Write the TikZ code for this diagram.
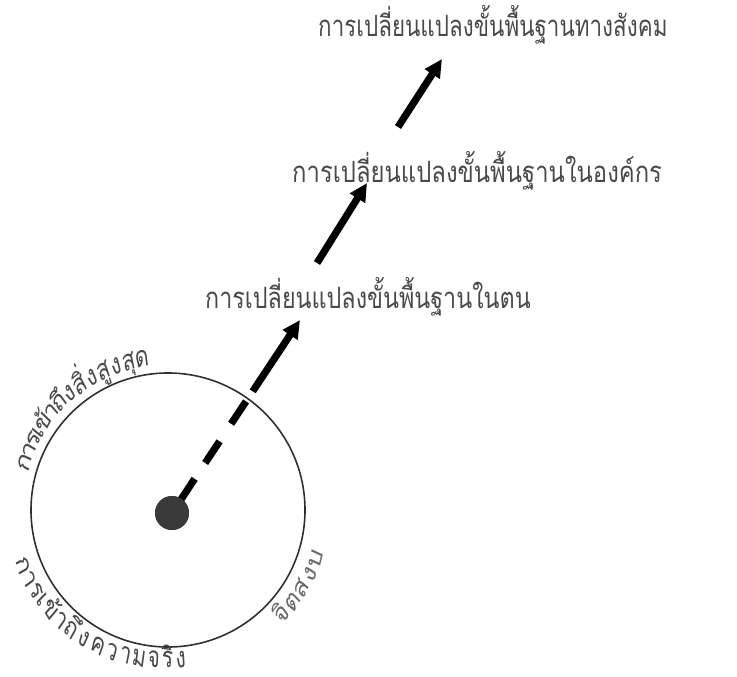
\documentclass[tikz,border=0pt]{standalone}
\usepackage{fontspec}
\newfontfamily\thaifont[Script=Thai]{Loma}
\usetikzlibrary{arrows.meta}
\definecolor{labelgray}{HTML}{4A4A4A}
\definecolor{lightlabel}{HTML}{6A6A6A}
\definecolor{ringgray}{HTML}{303030}
\definecolor{dotgray}{HTML}{3A3A3A}
\begin{document}
\begin{tikzpicture}[x=0.75pt,y=0.75pt,
  thaitext/.style={font=\thaifont\fontsize{22}{24}\selectfont, inner sep=0pt},
  lbl/.style={thaitext, text=labelgray, anchor=base west},
  arcl/.style={thaitext, xscale=0.72, text=labelgray, anchor=base},
  arcm/.style={thaitext, xscale=0.72, text=lightlabel, anchor=base},
  bigarrow/.style={line width=5.4pt, draw=black, -{Triangle[length=13.5pt,width=12.75pt]}},
  dotstyle/.style={circle, fill=dotgray, minimum size=25.5pt, inner sep=0pt},
]
\useasboundingbox (0,0) rectangle (737,676);
% ring and centre
\coordinate (C) at (168,166);
\draw[ringgray, line width=1.2pt] (C) circle (137);
% labels
\node[lbl, xscale=0.795] (t1) at (205,368) {การเปลี่ยนแปลงขั้นพื้นฐานในตน};
\node[lbl, xscale=0.812] (t2) at (292,494) {การเปลี่ยนแปลงขั้นพื้นฐานในองค์กร};
\node[lbl, xscale=0.764] (t3) at (318,639) {การเปลี่ยนแปลงขั้นพื้นฐานทางสังคม};
% arrows
\coordinate (tip1) at (300,356);
\coordinate (s2) at (317,413);
\coordinate (tip2) at (367,493);
\coordinate (s3) at (398,549);
\coordinate (tip3) at (442,617);
\node[dotstyle] (dot) at (172,163) {};
\draw[bigarrow, dash pattern=on 30.75pt off 14.25pt on 19.5pt off 15.75pt on 20.25pt off 9pt on 300pt] (dot.center) -- (tip1);
\node[dotstyle] at (dot) {};
\draw[bigarrow] (s2) -- (tip2);
\draw[bigarrow] (s3) -- (tip3);
% curved labels: upper arc
\foreach \c/\a in {ก/162, า/157.2, ร/152.9, เ/149.3, ข้/145.2, า/140.4, ถึ/135.6, ง/130.5, สิ่/125.4, ง/120.3, สู/115.3, ง/110.2, สุ/105.1, ด/100}
  \node[arcl, rotate=\a-90] at ([shift={(\a:145)}]C) {\c};
% curved labels: lower-left arc
\foreach \c/\a/\r in {ก/201.5/161, า/207/161, ร/211.9/161, เ/216/161, ข้/220.6/161, า/226.1/161, ถึ/231.6/161, ง/237.4/161, ค/243.2/160, ว/248.7/160, า/253.9/159, ม/259.4/159, จ/264.9/158, ริ/269.8/158, ง/275/158}
  \node[arcl, rotate=\a+90] at ([shift={(\a:\r)}]C) {\c};
% curved labels: lower-right arc
\foreach \c/\a in {จิ/-43, ต/-36.9, ส/-30.8, ง/-24.7, บ/-18.5}
  \node[arcm, rotate=\a+90] at ([shift={(\a:162)}]C) {\c};
\end{tikzpicture}
\end{document}
